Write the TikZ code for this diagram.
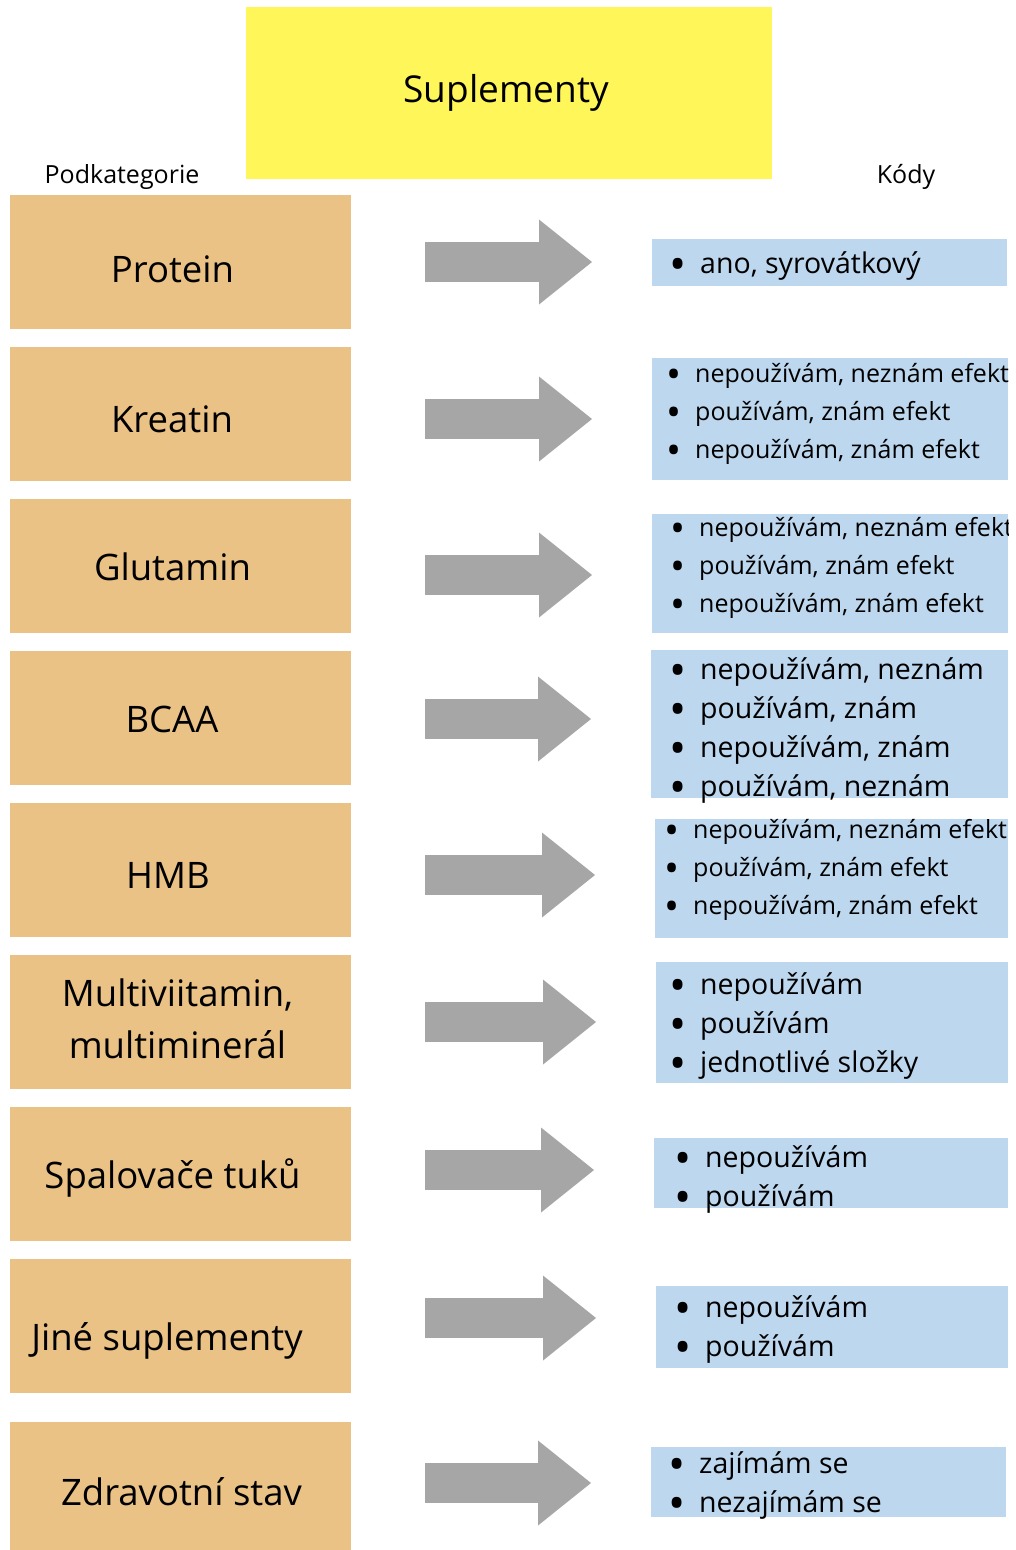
\documentclass[tikz,border=0pt]{standalone}
\usepackage{fontspec}
\usepackage{graphicx}
\setmainfont{Open Sans}
\usetikzlibrary{arrows.meta}
\definecolor{nadpis}{HTML}{FFF65A}
\definecolor{kategorie}{HTML}{EAC286}
\definecolor{kody}{HTML}{BDD7EE}
\definecolor{sipkagray}{HTML}{A6A6A6}

\newcommand{\polozka}[1]{\llap{\smash{\raisebox{-0.25em}{\scalebox{1.6}{\textbullet}}}\hspace{14pt}}#1}

\tikzset{
    katbox/.style={fill=kategorie, minimum width=341pt, minimum height=134pt, inner sep=0pt},
    kattext/.style={anchor=base, inner sep=0pt, align=center, font=\fontsize{36.5}{52}\selectfont},
    kodbox/.style={fill=kody, anchor=north west, inner sep=0pt},
    kodlist/.style={anchor=west, inner sep=0pt, align=left, yshift=-3pt},
    malykod/.style={kodlist, font=\fontsize{25}{38}\selectfont},
    velkykod/.style={kodlist, font=\fontsize{28.5}{39}\selectfont},
    sipka/.style={draw=sipkagray, line width=40pt,
        -{Triangle[width=85pt,length=53pt,line width=0pt]},
        shorten <=74pt, shorten >=60pt},
}

\begin{document}
\begin{tikzpicture}[x=1pt, y=-1pt]
    \useasboundingbox[fill=white] (0,0) rectangle (1015,1550);

    % nadpis
    \node[fill=nadpis, minimum width=526pt, minimum height=172pt, inner sep=0pt] (nadpis) at (509,93) {};
    \node[anchor=base, inner sep=0pt, font=\fontsize{37}{44}\selectfont] (nadpistext) at (506,102) {Suplementy};
    \node[anchor=base, inner sep=0pt, font=\fontsize{25}{30}\selectfont] (podkategorie) at (122,183) {Podkategorie};
    \node[anchor=base, inner sep=0pt, font=\fontsize{25}{30}\selectfont] (kodynadpis) at (906,183) {Kódy};

    % podkategorie
    \node[katbox] (kat1) at (180.5,262) {};
    \node[katbox] (kat2) at (180.5,414) {};
    \node[katbox] (kat3) at (180.5,566) {};
    \node[katbox] (kat4) at (180.5,718) {};
    \node[katbox] (kat5) at (180.5,870) {};
    \node[katbox] (kat6) at (180.5,1022) {};
    \node[katbox] (kat7) at (180.5,1174) {};
    \node[katbox] (kat8) at (180.5,1326) {};
    \node[katbox] (kat9) at (180.5,1489) {};

    \node[kattext] (katnazev1) at (172.5,282) {Protein};
    \node[kattext] (katnazev2) at (172,432) {Kreatin};
    \node[kattext] (katnazev3) at (172.5,580) {Glutamin};
    \node[kattext] (katnazev4) at (172,732) {BCAA};
    \node[kattext] (katnazev5) at (168,888) {HMB};
    \node[kattext, anchor=center] (katnazev6) at (177.5,1019) {Multiviitamin,\\multiminerál};
    \node[kattext] (katnazev7) at (172.5,1188) {Spalovače tuků};
    \node[kattext] (katnazev8) at (167,1350) {Jiné suplementy};
    \node[kattext] (katnazev9) at (181.5,1505) {Zdravotní stav};

    % kody
    \node[kodbox, minimum width=355pt, minimum height=47pt] (kod1) at (652,239) {};
    \node[kodbox, minimum width=356pt, minimum height=122pt] (kod2) at (652,358) {};
    \node[kodbox, minimum width=356pt, minimum height=119pt] (kod3) at (652,514) {};
    \node[kodbox, minimum width=357pt, minimum height=148pt] (kod4) at (651,650) {};
    \node[kodbox, minimum width=353pt, minimum height=119pt] (kod5) at (655,819) {};
    \node[kodbox, minimum width=352pt, minimum height=121pt] (kod6) at (656,962) {};
    \node[kodbox, minimum width=354pt, minimum height=70pt] (kod7) at (654,1138) {};
    \node[kodbox, minimum width=352pt, minimum height=82pt] (kod8) at (656,1286) {};
    \node[kodbox, minimum width=355pt, minimum height=70pt] (kod9) at (651,1447) {};

    \begin{scope}
        \clip (0,0) rectangle (1008,1550);
        \node[velkykod] (seznam1) at (700,263) {\polozka{ano, syrovátkový}};
        \node[malykod] (seznam2) at (695,411) {\polozka{nepoužívám, neznám efekt}\\
            \polozka{používám, znám efekt}\\ \polozka{nepoužívám, znám efekt}};
        \node[malykod] (seznam3) at (699,565) {\polozka{nepoužívám, neznám efekt}\\
            \polozka{používám, znám efekt}\\ \polozka{nepoužívám, znám efekt}};
        \node[velkykod] (seznam4) at (700,727.5) {\polozka{nepoužívám, neznám}\\
            \polozka{používám, znám}\\ \polozka{nepoužívám, znám}\\ \polozka{používám, neznám}};
        \node[malykod] (seznam5) at (693,867) {\polozka{nepoužívám, neznám efekt}\\
            \polozka{používám, znám efekt}\\ \polozka{nepoužívám, znám efekt}};
        \node[velkykod] (seznam6) at (700,1023) {\polozka{nepoužívám}\\
            \polozka{používám}\\ \polozka{jednotlivé složky}};
        \node[velkykod] (seznam7) at (705,1176.5) {\polozka{nepoužívám}\\ \polozka{používám}};
        \node[velkykod] (seznam8) at (705,1326.5) {\polozka{nepoužívám}\\ \polozka{používám}};
        \node[velkykod] (seznam9) at (699,1482.5) {\polozka{zajímám se}\\ \polozka{nezajímám se}};
    \end{scope}

    % sipky
    \draw[sipka] (kat1.east |- 0,262) -- (kod1.west |- 0,262);
    \draw[sipka] (kat2.east |- 0,419) -- (kod2.west |- 0,419);
    \draw[sipka] (kat3.east |- 0,575) -- (kod3.west |- 0,575);
    \draw[sipka] (kat4.east |- 0,719) -- (kod4.west |- 0,719);
    \draw[sipka] (kat5.east |- 0,875) -- (kod5.west |- 0,875);
    \draw[sipka] (kat6.east |- 0,1022) -- (kod6.west |- 0,1022);
    \draw[sipka] (kat7.east |- 0,1170) -- (kod7.west |- 0,1170);
    \draw[sipka] (kat8.east |- 0,1318) -- (kod8.west |- 0,1318);
    \draw[sipka] (kat9.east |- 0,1483) -- (kod9.west |- 0,1483);
\end{tikzpicture}
\end{document}
